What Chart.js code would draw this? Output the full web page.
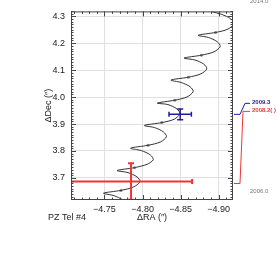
<!DOCTYPE html>
<html>
<head>
<meta charset="utf-8">
<script src="https://cdn.jsdelivr.net/npm/chart.js@4.4.1/dist/chart.umd.min.js"></script>
<style>
  html, body { margin: 0; padding: 0; background: #fff; }
  #wrap { width: 277px; height: 263px; position: relative; }
</style>
</head>
<body>
<div id="wrap"><canvas id="chart"></canvas></div>
<script>
// predicted relative track (parallax + motion)
const trackRA = [
  -4.7780, -4.7741, -4.7623,
  -4.7487, -4.7716, -4.7880, -4.7967, -4.7928, -4.7810,
  -4.7666, -4.7895, -4.8059, -4.8141, -4.8102, -4.7984,
  -4.7843, -4.8072, -4.8236, -4.8314, -4.8275, -4.8157,
  -4.8024, -4.8253, -4.8416, -4.8491, -4.8452, -4.8334,
  -4.8194, -4.8423, -4.8586, -4.8665, -4.8626, -4.8508,
  -4.8373, -4.8602, -4.8766, -4.8844, -4.8805, -4.8687,
  -4.8546, -4.8775, -4.8939, -4.9021, -4.8982, -4.8864,
  -4.8730, -4.8959, -4.9123, -4.9198, -4.9158, -4.9041,
  -4.8908
];
const trackDec = [
  3.6004, 3.6182, 3.6342,
  3.6431, 3.6537, 3.6662, 3.6858, 3.7036, 3.7196,
  3.7274, 3.7381, 3.7505, 3.7676, 3.7854, 3.8014,
  3.8103, 3.8210, 3.8335, 3.8530, 3.8708, 3.8868,
  3.8947, 3.9053, 3.9178, 3.9384, 3.9562, 3.9722,
  3.9776, 3.9883, 4.0007, 4.0203, 4.0381, 4.0541,
  4.0630, 4.0737, 4.0861, 4.1046, 4.1224, 4.1377,
  4.1448, 4.1555, 4.1680, 4.1875, 4.2053, 4.2214,
  4.2292, 4.2399, 4.2523, 4.2730, 4.2908, 4.3068,
  4.3174
];

// yearly marks on the track
const epochRA  = [-4.7716, -4.7895, -4.8072, -4.8253, -4.8423, -4.8602, -4.8775, -4.8959];
const epochDec = [ 3.6537,  3.7381,  3.8210,  3.9053,  3.9883,  4.0737,  4.1555,  4.2399];

// measurements
const measRA     = [-4.8495, -4.7849];
const measDec    = [ 3.9359,  3.6868];
const measRAErr  = [ 0.0147,  0.0803];
const measDecErr = [ 0.0200,  0.0676];
const measEpoch  = ['2009.3', '2008.2( )'];
const measColor  = ['#1e1e96', '#ee3434'];

const rangeLabels = ['2014.0', '2006.0'];

const xTicks = [-4.75, -4.80, -4.85, -4.90];
const yTicks = [3.7, 3.8, 3.9, 4.0, 4.1, 4.2, 4.3];

const FONT = '"Liberation Sans", Arial, sans-serif';

const frame = {
  id: 'frame',
  afterDatasetsDraw(chart) {
    const { ctx, chartArea: a, scales: { x, y } } = chart;

    // error bars, clipped to the plot box
    ctx.save();
    ctx.beginPath();
    ctx.rect(a.left, a.top, a.right - a.left, a.bottom - a.top);
    ctx.clip();
    for (let i = measRA.length - 1; i >= 0; i--) {
      const cx = x.getPixelForValue(measRA[i]);
      const cy = y.getPixelForValue(measDec[i]);
      const x1 = x.getPixelForValue(measRA[i] + measRAErr[i]);
      const x2 = x.getPixelForValue(measRA[i] - measRAErr[i]);
      const y1 = y.getPixelForValue(measDec[i] + measDecErr[i]);
      const y2 = y.getPixelForValue(measDec[i] - measDecErr[i]);
      ctx.strokeStyle = measColor[i];
      ctx.lineWidth = i === 0 ? 1.5 : 2;
      ctx.beginPath();
      ctx.moveTo(x1, cy); ctx.lineTo(x2, cy);
      ctx.moveTo(cx, y1); ctx.lineTo(cx, y2);
      ctx.moveTo(x1, cy - 2.5); ctx.lineTo(x1, cy + 2.5);
      ctx.moveTo(x2, cy - 2.5); ctx.lineTo(x2, cy + 2.5);
      ctx.moveTo(cx - 3, y1); ctx.lineTo(cx + 3, y1);
      ctx.moveTo(cx - 3, y2); ctx.lineTo(cx + 3, y2);
      ctx.stroke();
    }
    ctx.restore();
  },
  afterDraw(chart) {
    const { ctx, chartArea: a, scales: { x, y } } = chart;
    ctx.save();

    // box and inward ticks on all four sides
    ctx.strokeStyle = '#444';
    ctx.lineWidth = 1;
    ctx.beginPath();
    ctx.rect(a.left + 0.5, a.top + 0.5, a.right - a.left - 1, a.bottom - a.top - 1);
    ctx.stroke();
    ctx.beginPath();
    for (let i = 470; i <= 492; i++) {
      const px = Math.round(x.getPixelForValue(-i / 100)) + 0.5;
      if (px < a.left || px > a.right) continue;
      const len = i % 5 === 0 ? 5 : 2.5;
      ctx.moveTo(px, a.bottom); ctx.lineTo(px, a.bottom - len);
      ctx.moveTo(px, a.top); ctx.lineTo(px, a.top + len);
    }
    for (let i = 361; i <= 432; i++) {
      const py = Math.round(y.getPixelForValue(i / 100)) + 0.5;
      if (py < a.top || py > a.bottom) continue;
      const len = i % 10 === 0 ? 5 : 2.5;
      ctx.moveTo(a.left, py); ctx.lineTo(a.left + len, py);
      ctx.moveTo(a.right, py); ctx.lineTo(a.right - len, py);
    }
    ctx.stroke();

    // axis titles and object name
    ctx.fillStyle = '#222';
    ctx.font = '9px ' + FONT;
    ctx.textBaseline = 'middle';
    ctx.textAlign = 'center';
    ctx.fillText('\u0394RA (\u2033)', (a.left + a.right) / 2, 218);
    ctx.textAlign = 'left';
    ctx.fillText('PZ Tel #4', 48, 218);
    ctx.save();
    ctx.translate(49, (a.top + a.bottom) / 2);
    ctx.rotate(-Math.PI / 2);
    ctx.textAlign = 'center';
    ctx.fillText('\u0394Dec (\u2033)', 0, 0);
    ctx.restore();

    // epoch connectors on the right
    const yb = y.getPixelForValue(measDec[0]);
    const yr = y.getPixelForValue(measDec[1]) + 2;
    ctx.lineWidth = 1;
    ctx.strokeStyle = measColor[0];
    ctx.beginPath();
    ctx.moveTo(a.right + 1, yb); ctx.lineTo(a.right + 7, yb);
    ctx.lineTo(a.right + 12, yb - 11); ctx.lineTo(a.right + 17, yb - 11);
    ctx.stroke();
    ctx.strokeStyle = measColor[1];
    ctx.beginPath();
    ctx.moveTo(a.right + 1, yr); ctx.lineTo(a.right + 7, yr);
    ctx.lineTo(a.right + 10, yb - 3); ctx.lineTo(a.right + 17, yb - 3);
    ctx.stroke();

    ctx.font = 'bold 6px ' + FONT;
    ctx.fillStyle = measColor[0];
    ctx.fillText(measEpoch[0], a.right + 19, yb - 12);
    ctx.fillStyle = measColor[1];
    ctx.fillText(measEpoch[1], a.right + 19, yb - 4);

    ctx.font = '6px ' + FONT;
    ctx.fillStyle = '#777';
    ctx.fillText(rangeLabels[0], a.right + 17, 1.5);
    ctx.fillText(rangeLabels[1], a.right + 17, 191);
    ctx.restore();
  }
};

new Chart(document.getElementById('chart'), {
  type: 'scatter',
  data: {
    datasets: [
      {
        data: trackRA.map((v, i) => ({ x: v, y: trackDec[i] })),
        showLine: true,
        tension: 0.3,
        borderColor: '#333',
        borderWidth: 1,
        pointRadius: 0
      },
      {
        data: epochRA.map((v, i) => ({ x: v, y: epochDec[i] })),
        pointRadius: 1.5,
        pointBackgroundColor: '#888',
        pointBorderWidth: 0
      }
    ]
  },
  options: {
    responsive: true,
    maintainAspectRatio: false,
    animation: false,
    layout: { padding: { left: 0, right: 44, top: 3, bottom: 0 } },
    plugins: { legend: { display: false }, tooltip: { enabled: false } },
    scales: {
      x: {
        type: 'linear',
        reverse: true,
        min: -4.9189,
        max: -4.7060,
        afterBuildTicks: s => { s.ticks = xTicks.map(v => ({ value: v })); },
        afterFit: s => { s.height = 63; },
        grid: { color: '#e0e0e0', drawTicks: false },
        border: { display: false },
        ticks: {
          padding: 4,
          color: '#222',
          font: { family: FONT, size: 9 },
          maxRotation: 0,
          callback: v => '\u2212' + Math.abs(v).toFixed(2)
        }
      },
      y: {
        type: 'linear',
        min: 3.618,
        max: 4.318,
        afterBuildTicks: s => { s.ticks = yTicks.map(v => ({ value: v })); },
        afterFit: s => { s.width = 71; },
        grid: { color: '#e0e0e0', drawTicks: false },
        border: { display: false },
        ticks: {
          padding: 6,
          color: '#222',
          font: { family: FONT, size: 9 },
          callback: v => v.toFixed(1)
        }
      }
    }
  },
  plugins: [frame]
});
</script>
</body>
</html>
